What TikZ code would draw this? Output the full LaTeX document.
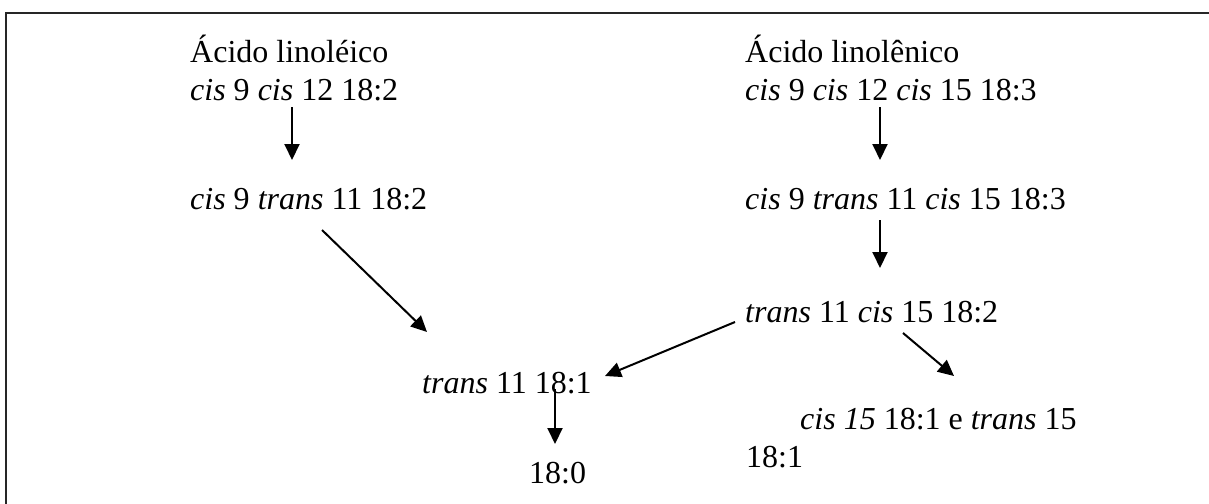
\documentclass[tikz,border=0pt]{standalone}
\usepackage{fontspec}
\setmainfont{Liberation Serif}
\usetikzlibrary{arrows.meta}
\begin{document}
\begin{tikzpicture}[x=1pt,y=-1pt,
  lbl/.style={anchor=base west,inner sep=0pt,font=\fontsize{32}{37}\selectfont},
  arr/.style={line width=2pt,-{Triangle[length=16pt,width=15pt]}},
  frame/.style={line width=2.5pt,draw=black!85}]
\useasboundingbox (0,0) rectangle (1209,503);
\fill[white] (0,0) rectangle (1209,503);
\draw[frame] (6,510) -- (6,13) -- (1215,13);
% left column
\node[lbl] (A1) at (190,63) {Ácido linoléico};
\node[lbl] (A1b) at (190,100) {\textit{cis} 9 \textit{cis} 12 18:2};
\node[lbl] (A2) at (190,209) {\textit{cis} 9 \textit{trans} 11 18:2};
% right column
\node[lbl] (B1) at (745,63) {Ácido linolênico};
\node[lbl] (B1b) at (745,100) {\textit{cis} 9 \textit{cis} 12 \textit{cis} 15 18:3};
\node[lbl] (B2) at (745,209) {\textit{cis} 9 \textit{trans} 11 \textit{cis} 15 18:3};
\node[lbl] (B3) at (745,322) {\textit{trans} 11 \textit{cis} 15 18:2};
% bottom
\node[lbl] (C) at (422,393) {\textit{trans} 11 18:1};
\node[lbl] (D) at (529,483) {18:0};
\node[lbl] (E) at (800,429) {\textit{cis 15} 18:1 e \textit{trans} 15};
\node[lbl] (Eb) at (746,467) {18:1};
% arrow ends
\coordinate (a1s) at (292,107); \coordinate (a1e) at (292,160);
\coordinate (b1s) at (880,107); \coordinate (b1e) at (880,160);
\coordinate (b2s) at (880,220); \coordinate (b2e) at (880,268);
\coordinate (a2s) at (322,230); \coordinate (a2e) at (427,332);
\coordinate (b3s) at (735,322); \coordinate (b3e) at (605,376);
\coordinate (b3t) at (903,333); \coordinate (b3f) at (954,376);
\coordinate (cs) at (555,389); \coordinate (ce) at (555,444);
\draw[arr] (a1s) -- (a1e);
\draw[arr] (b1s) -- (b1e);
\draw[arr] (b2s) -- (b2e);
\draw[arr] (a2s) -- (a2e);
\draw[arr] (b3s) -- (b3e);
\draw[arr] (b3t) -- (b3f);
\draw[arr] (cs) -- (ce);
\end{tikzpicture}
\end{document}
